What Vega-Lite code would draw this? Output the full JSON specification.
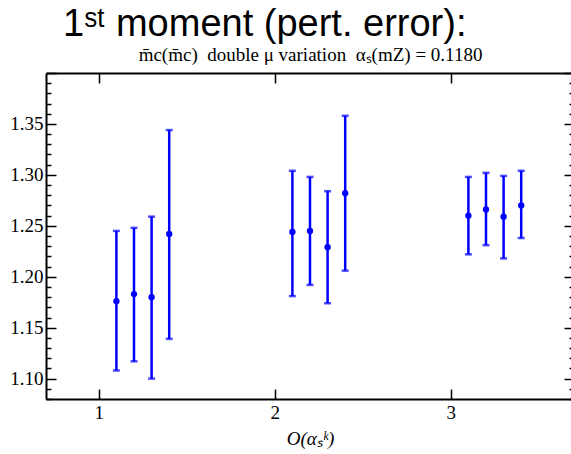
{
  "$schema": "https://vega.github.io/schema/vega-lite/v6.json",
  "width": 528,
  "height": 326,
  "autosize": {"type": "none"},
  "padding": {"left": 46, "top": 73, "right": 0, "bottom": 55},
  "background": "white",
  "config": {
    "view": {"stroke": null},
    "axis": {"domainColor": "black", "domainWidth": 2, "tickColor": "black", "tickWidth": 1.5, "labelFont": "Liberation Serif", "labelFontSize": 19, "labelColor": "black", "grid": false, "titleFont": "Liberation Serif", "titleFontWeight": "normal", "titleColor": "black"}
  },
  "title": {
    "text": "1ˢᵗ moment (pert. error):",
    "font": "Liberation Sans",
    "fontSize": 38,
    "fontWeight": "normal",
    "color": "black",
    "anchor": "start",
    "frame": "group",
    "dx": 17,
    "offset": 1
  },
  "data": {
    "values": [
      {"k": 1.1, "v": 1.176, "lo": 1.108, "hi": 1.245},
      {"k": 1.2, "v": 1.183, "lo": 1.117, "hi": 1.248},
      {"k": 1.3, "v": 1.180, "lo": 1.100, "hi": 1.259},
      {"k": 1.4, "v": 1.242, "lo": 1.139, "hi": 1.344},
      {"k": 2.1, "v": 1.244, "lo": 1.181, "hi": 1.304},
      {"k": 2.2, "v": 1.245, "lo": 1.192, "hi": 1.298},
      {"k": 2.3, "v": 1.229, "lo": 1.174, "hi": 1.284},
      {"k": 2.4, "v": 1.282, "lo": 1.206, "hi": 1.358},
      {"k": 3.1, "v": 1.260, "lo": 1.222, "hi": 1.298},
      {"k": 3.2, "v": 1.266, "lo": 1.231, "hi": 1.302},
      {"k": 3.3, "v": 1.259, "lo": 1.218, "hi": 1.299},
      {"k": 3.4, "v": 1.270, "lo": 1.238, "hi": 1.304}
    ]
  },
  "layer": [
    {
      "mark": {"type": "errorbar", "color": "#0000ff", "ticks": {"size": 7, "thickness": 2.5, "color": "#0000ff"}, "rule": {"strokeWidth": 2.5}},
      "encoding": {
        "x": {"field": "k", "type": "quantitative", "scale": {"domain": [0.7, 3.7], "nice": false, "zero": false},
          "axis": {"orient": "bottom", "values": [1, 2, 3], "tickSize": -10, "labelPadding": 14, "format": "d", "title": "O(αₛᵏ)", "titleFontStyle": "italic", "titleFontSize": 19, "titlePadding": 7}},
        "y": {"field": "lo", "type": "quantitative", "scale": {"domain": [1.08, 1.40], "nice": false, "zero": false},
          "axis": {"orient": "left", "values": [1.08,1.09,1.10,1.11,1.12,1.13,1.14,1.15,1.16,1.17,1.18,1.19,1.20,1.21,1.22,1.23,1.24,1.25,1.26,1.27,1.28,1.29,1.30,1.31,1.32,1.33,1.34,1.35,1.36,1.37,1.38,1.39,1.40],
            "tickSize": {"condition": {"test": "round(datum.value*100) % 5 == 0", "value": -10}, "value": -5},
            "labelExpr": "round(datum.value*100) % 5 == 0 && datum.value < 1.395 ? format(datum.value, '.2f') : ''",
            "labelPadding": 13, "title": null}},
        "y2": {"field": "hi"}
      }
    },
    {
      "mark": {"type": "point", "filled": true, "color": "#0000ff", "size": 40, "opacity": 1},
      "encoding": {
        "x": {"field": "k", "type": "quantitative",
          "axis": {"orient": "top", "values": [1, 2, 3], "tickSize": -10, "labels": false,
            "title": "m̄c(m̄c)\u00a0\u00a0double μ variation\u00a0\u00a0αₛ(mZ) = 0.1180", "titleFontSize": 19, "titleX": 264, "titleY": -13, "titleBaseline": "alphabetic"}},
        "y": {"field": "v", "type": "quantitative",
          "axis": {"orient": "right", "values": [1.08,1.09,1.10,1.11,1.12,1.13,1.14,1.15,1.16,1.17,1.18,1.19,1.20,1.21,1.22,1.23,1.24,1.25,1.26,1.27,1.28,1.29,1.30,1.31,1.32,1.33,1.34,1.35,1.36,1.37,1.38,1.39,1.40],
            "tickSize": {"condition": {"test": "round(datum.value*100) % 5 == 0", "value": -10}, "value": -5},
            "labels": false, "title": null}}
      }
    }
  ],
  "resolve": {"axis": {"x": "independent", "y": "independent"}}
}
